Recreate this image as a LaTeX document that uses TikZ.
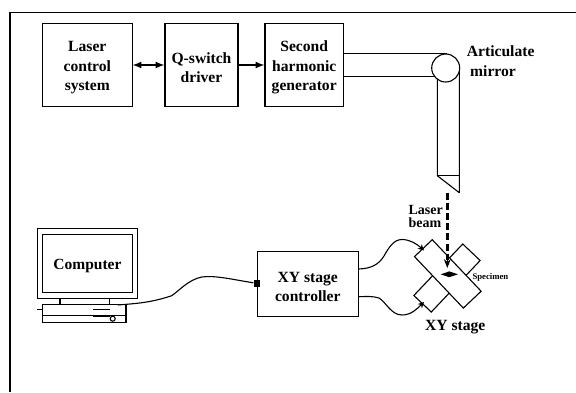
\documentclass[tikz,border=0pt]{standalone}
\usepackage{fontspec}
\setmainfont{Liberation Serif}
\usetikzlibrary{positioning,shapes.geometric,arrows.meta}
\newcommand{\toproom}{\rule{0pt}{16pt}}
\tikzset{
  unitbox/.style={draw, line width=1.1pt, align=center, inner sep=0pt, font=\bfseries\fontsize{15.6}{19.4}\selectfont},
  labeltext/.style={align=left, inner sep=0pt, font=\bfseries\fontsize{15.6}{19.4}\selectfont},
  plate/.style={draw, line width=1.1pt, fill=white, inner sep=0pt},
  line/.style={line width=1.1pt},
  cable/.style={line width=1.1pt, line join=round},
  link/.style={line width=2pt, >=latex}
}
\begin{document}
\begin{tikzpicture}[x=1pt, y=-1pt]
\useasboundingbox (0,0) rectangle (576,392);
\coordinate (framea) at (10,392);
\coordinate (frameb) at (10,12.7);
\coordinate (framec) at (576,12.7);
\draw[line] (framea)--(frameb)--(framec);

\node[unitbox, minimum width=89.5pt, minimum height=82.5pt] (lasercontrol) at (87.3,65){\toproom Laser\\control\\system};
\node[unitbox, minimum width=73pt, minimum height=82.5pt] (qswitch) at (201.5,65){\toproom Q-switch\\driver};
\node[unitbox, minimum width=78.5pt, minimum height=82.5pt] (shg) at (304.2,65){\toproom Second\\harmonic\\generator};
\draw[link, <->] (lasercontrol)--(qswitch);
\draw[link, ->] (qswitch)--(shg);

%beam tube
\node[draw, circle, line width=1.1pt, minimum size=28pt, inner sep=0pt] (mirror) at (445.7,68){};
\coordinate (tubea) at (shg.east|-0,53.7);
\coordinate (tubeb) at (shg.east|-0,76.3);
\coordinate (tubec) at (447,53.7);
\coordinate (tubed) at (435,76.3);
\draw[line] (tubea)--(tubec);
\draw[line] (tubeb)--(tubed);
\coordinate (downa) at (437.3,79);
\coordinate (downb) at (459.3,71);
\coordinate (downc) at (437.3,175.7);
\coordinate (downd) at (459.3,175.7);
\coordinate (downe) at (459.3,192.7);
\draw[line, line join=round] (downa)--(downc)--(downe)--(downb);
\draw[line] (downc)--(downd);
\node[labeltext, anchor=west] (articulate) at (466.7,50.7){Articulate};
\node[labeltext, anchor=west] (articulatem) at (470,70.7){mirror};

%stage
\node[plate, minimum width=71pt, minimum height=24pt, rotate=46.5] (platelow) at (447,278){};
\node[plate, minimum width=71pt, minimum height=24.5pt, rotate=-46.5] (platetop) at (447.8,273.9){};
\node[diamond, fill=black, minimum width=17.5pt, minimum height=6pt, inner sep=0pt, aspect=3] (specimen) at (449.3,274.3){};
\coordinate (beama) at (447.3,192.5);
\coordinate (beamb) at (447.3,268);
\draw[line width=2.4pt, dash pattern=on 7pt off 3.2pt] (beama)--(447.3,260);
\draw[line width=1pt, -{Stealth[length=9pt,width=7pt]}] (447.3,258)--(beamb);
\node[labeltext, anchor=east, font=\bfseries\fontsize{14}{13.6}\selectfont] (laserbeam) at (443,216.5){Laser\\beam};
\node[labeltext, anchor=west] (xystage) at (425,327){XY stage};
\node[anchor=west, inner sep=0pt, font=\bfseries\fontsize{8.7}{9}\selectfont] (specimenl) at (472.3,277){Specimen};

\node[unitbox, minimum width=101pt, minimum height=64.5pt] (controller) at (307.8,283.8){\toproom XY stage\\controller};
\node[fill=black, minimum size=6.5pt, inner sep=0pt] (port) at (controller.west|-0,283.3){};
\coordinate (stagea) at (424,250.5);
\coordinate (stageb) at (424,302);
\draw[cable, -{Stealth[length=6pt,width=6pt]}] (controller.east|-0,269)..controls (372,268.5) and (379,264)..(384,256)..controls (389,247) and (394,239.5)..(402,239.5)..controls (410,239.5) and (417,244)..(stagea);
\draw[cable, -{Stealth[length=6pt,width=6pt]}] (controller.east|-0,296.7)..controls (366,296.5) and (373,296)..(379,298)..controls (386,302) and (391,315)..(402,315)..controls (411,315) and (417,309)..(stageb);

%computer
\node[draw, line width=1.1pt, minimum width=100pt, minimum height=70pt, inner sep=0pt] (screen) at (87.3,263.3){};
\node[draw, line width=1.1pt, minimum width=89.6pt, minimum height=58.3pt, inner sep=0pt, font=\bfseries\fontsize{15.5}{19}\selectfont] (computer) at (87.5,263.2){\toproom Computer};
\node[draw, line width=1.1pt, minimum width=83.3pt, minimum height=18pt, inner sep=0pt] (base) at (84.3,313.3){};
\draw[line] (60,298.3)--(60,304.3);
\draw[line] (109.3,298.3)--(109.3,304.3);
\draw[line] (37,309.5)--(base.west|-0,309.5);
\draw[line] (93.3,309.7)--(110,309.7);
\draw[line] (base.west|-0,315.7)--(base.east|-0,315.7);
\draw[line, line width=1.4pt] (93.3,315.9)--(110,315.9);
\node[draw, circle, line width=1.1pt, fill=white, minimum size=5pt, inner sep=0pt] (knob) at (112.7,318.7){};
\coordinate (plug) at (118,305);
\draw[cable] (plug)..controls (135,303.5) and (150,303)..(171.7,295.7)..controls (180,290) and (188,280)..(201.7,277)..controls (215,275) and (235,280)..(port);
\end{tikzpicture}
\end{document}
